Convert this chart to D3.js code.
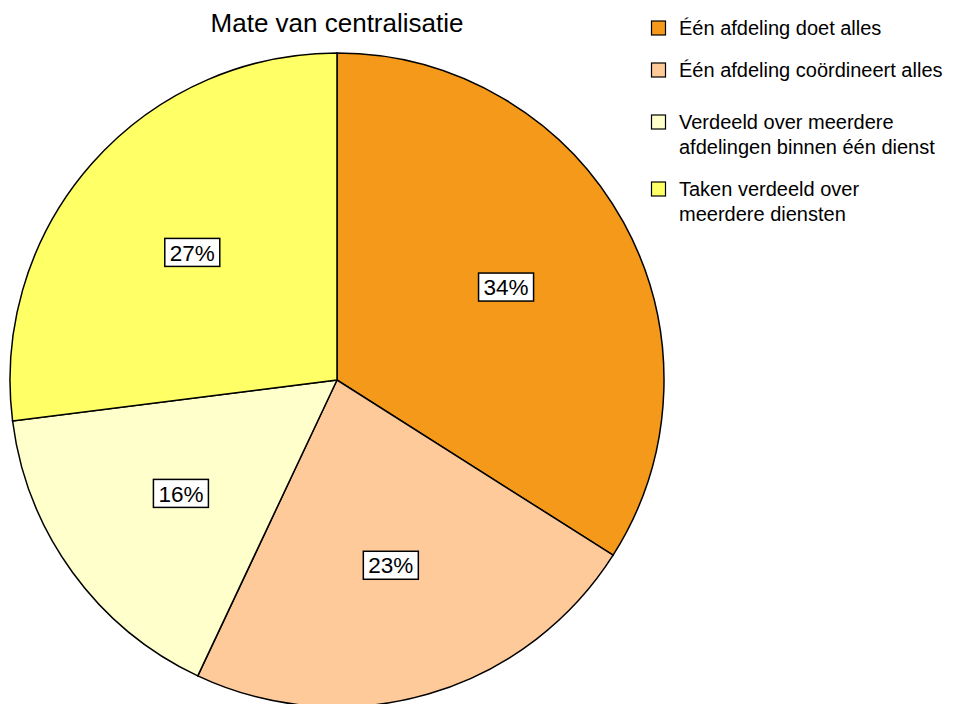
<!DOCTYPE html>
<html>
<head>
<meta charset="utf-8">
<script src="https://cdn.jsdelivr.net/npm/d3@7"></script>
<style>
  body { margin: 0; background: #fff; }
  svg { font-family: Helvetica, Arial, "Liberation Sans", sans-serif; }
</style>
</head>
<body>
<div id="container"></div>
<script>
const width = 953;
const height = 704;

// data
const categories = [
  'Één afdeling doet alles',
  'Één afdeling coördineert alles',
  'Verdeeld over meerdere afdelingen binnen één dienst',
  'Taken verdeeld over meerdere diensten'
];
const legendLines = [
  ['Één afdeling doet alles'],
  ['Één afdeling coördineert alles'],
  ['Verdeeld over meerdere', 'afdelingen binnen één dienst'],
  ['Taken verdeeld over', 'meerdere diensten']
];
const values = [34, 23, 16, 27];
const colors = ['#F4991A', '#FFCA99', '#FFFFCC', '#FFFF66'];

const cx = 337, cy = 380, radius = 327;

const svg = d3.select('#container')
  .append('svg')
  .attr('width', width)
  .attr('height', height);

svg.append('text')
  .attr('x', cx)
  .attr('y', 32)
  .attr('text-anchor', 'middle')
  .attr('font-size', 26)
  .text('Mate van centralisatie');

const pie = d3.pie().sort(null).value(d => d)(values);
const arc = d3.arc().innerRadius(0).outerRadius(radius);
const labelArc = d3.arc().innerRadius(radius * 0.59).outerRadius(radius * 0.59);

const g = svg.append('g').attr('transform', `translate(${cx},${cy})`);

g.selectAll('path.slice')
  .data(pie)
  .join('path')
  .attr('class', 'slice')
  .attr('d', arc)
  .attr('fill', (d, i) => colors[i])
  .attr('stroke', '#000')
  .attr('stroke-width', 1.5);

const labels = g.selectAll('g.label')
  .data(pie)
  .join('g')
  .attr('class', 'label')
  .attr('transform', d => `translate(${labelArc.centroid(d)})`);

labels.append('rect')
  .attr('x', -27.5)
  .attr('y', -14)
  .attr('width', 55)
  .attr('height', 28)
  .attr('fill', '#fff')
  .attr('stroke', '#000')
  .attr('stroke-width', 1.5);

labels.append('text')
  .attr('text-anchor', 'middle')
  .attr('dy', '0.36em')
  .attr('font-size', 22.5)
  .text(d => `${d.data}%`);

// legend
const legendY = [28, 70, 122, 189];
const legend = svg.append('g').attr('transform', 'translate(651,0)');
const items = legend.selectAll('g.item')
  .data(legendLines)
  .join('g')
  .attr('class', 'item')
  .attr('transform', (d, i) => `translate(0,${legendY[i]})`);

items.append('rect')
  .attr('x', 0.5)
  .attr('y', -7)
  .attr('width', 14)
  .attr('height', 14)
  .attr('fill', (d, i) => colors[i])
  .attr('stroke', '#000')
  .attr('stroke-width', 1.2);

items.append('text')
  .attr('x', 28)
  .attr('font-size', 20)
  .selectAll('tspan')
  .data(d => d)
  .join('tspan')
  .attr('x', 28)
  .attr('y', (d, i) => i * 25)
  .attr('dy', '0.36em')
  .text(d => d);
</script>
</body>
</html>
